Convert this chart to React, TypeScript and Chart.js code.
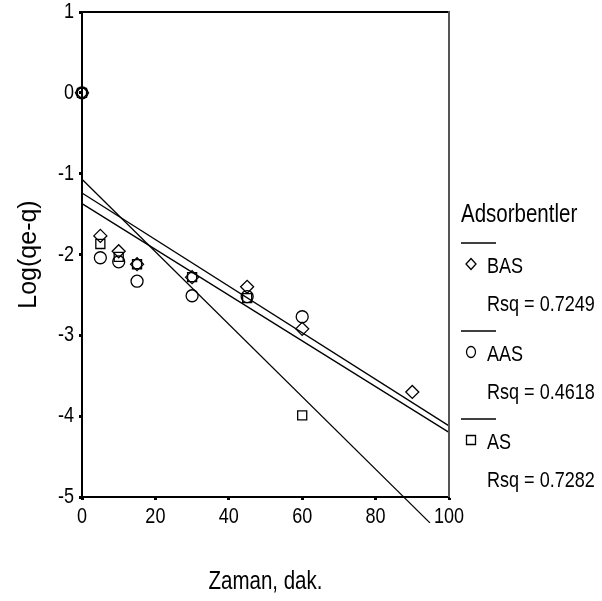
import React, { useEffect, useRef } from "react";
import { Chart, registerables } from "chart.js";

Chart.register(...registerables);

// ---- data ----
const timeBAS = [0, 5, 10, 15, 30, 45, 60, 90];
const logBAS = [0, -1.77, -1.96, -2.12, -2.28, -2.4, -2.92, -3.7];
const timeAAS = [0, 5, 10, 15, 30, 45, 60];
const logAAS = [0, -2.04, -2.09, -2.33, -2.51, -2.52, -2.77];
const timeAS = [0, 5, 10, 15, 30, 45, 60];
const logAS = [0, -1.87, -2.03, -2.12, -2.28, -2.54, -3.99];

// fitted lines (end points)
const fitXBAS = [0, 100];
const fitYBAS = [-1.24, -4.12];
const fitXAAS = [0, 100];
const fitYAAS = [-1.37, -4.2];
const fitXAS = [0, 94.8];
const fitYAS = [-1.07, -5.32];

const seriesNames = ["BAS", "AAS", "AS"];
const rsqLabels = ["Rsq = 0.7249", "Rsq = 0.4618", "Rsq = 0.7282"];
const legendTitle = "Adsorbentler";
const xTitle = "Zaman, dak.";
const yTitle = "Log(qe-q)";
const xMin = 0, xMax = 100, xStep = 20;
const yMin = -5, yMax = 1, yStep = 1;

const FONT = '"Liberation Sans", Arial, sans-serif';
const SQUEEZE = 0.82;

const toPts = (xs: number[], ys: number[]) => xs.map((x, i) => ({ x, y: ys[i] }));

// draws condensed text (the reference uses a narrow sans face)
function narrowText(ctx: any, text: string, x: number, y: number, size: number, align: string) {
  ctx.save();
  ctx.font = `${size}px ${FONT}`;
  ctx.textAlign = align;
  ctx.textBaseline = "middle";
  ctx.translate(x, y);
  ctx.scale(SQUEEZE, 1);
  ctx.fillText(text, 0, 0);
  ctx.restore();
}

const framePlugin = {
  id: "frameAndLegend",
  afterDraw(chart: any) {
    const { ctx, chartArea } = chart;
    const { left, right, top, bottom } = chartArea;
    ctx.save();
    // top & right frame
    ctx.strokeStyle = "#000";
    ctx.lineWidth = 2;
    ctx.beginPath();
    ctx.moveTo(left, top);
    ctx.lineTo(right, top);
    ctx.stroke();
    ctx.strokeStyle = "#555";
    ctx.beginPath();
    ctx.moveTo(right, top - 1);
    ctx.lineTo(right, bottom);
    ctx.stroke();

    ctx.fillStyle = "#000";
    // tick labels from the library's own ticks
    const xs = chart.scales.x;
    xs.ticks.forEach((t: any) => {
      narrowText(ctx, String(t.label), xs.getPixelForValue(t.value), 517, 22, "center");
    });
    const ys = chart.scales.y;
    ys.ticks.forEach((t: any) => {
      narrowText(ctx, String(t.label), 74, ys.getPixelForValue(t.value), 22, "right");
    });

    // axis titles
    narrowText(ctx, xTitle, (left + right) / 2, 582, 25, "center");
    ctx.save();
    ctx.font = `25px ${FONT}`;
    ctx.textAlign = "center";
    ctx.textBaseline = "middle";
    ctx.translate(29, (top + bottom) / 2);
    ctx.rotate(-Math.PI / 2);
    ctx.fillText(yTitle, 0, 0);
    ctx.restore();

    // legend
    narrowText(ctx, legendTitle, 461, 215, 25, "left");
    const shapes = ["diamond", "circle", "square"];
    seriesNames.forEach((name, i) => {
      const sep = 243 + 88 * i;
      ctx.strokeStyle = "#000";
      ctx.lineWidth = 1.3;
      ctx.beginPath();
      ctx.moveTo(461, sep);
      ctx.lineTo(496, sep);
      ctx.stroke();
      const mx = 471, my = sep + 21;
      ctx.beginPath();
      if (shapes[i] === "diamond") {
        ctx.moveTo(mx, my - 5.5);
        ctx.lineTo(mx + 5, my);
        ctx.lineTo(mx, my + 5.5);
        ctx.lineTo(mx - 5, my);
        ctx.closePath();
      } else if (shapes[i] === "circle") {
        ctx.ellipse(mx, my, 4.5, 5.5, 0, 0, Math.PI * 2);
      } else {
        ctx.rect(mx - 4.5, my - 4.5, 9, 9);
      }
      ctx.stroke();
      narrowText(ctx, name, 487, sep + 24, 22, "left");
      narrowText(ctx, rsqLabels[i], 487, sep + 62, 22, "left");
    });
    ctx.restore();
  },
};

export default function App() {
  const ref = useRef<HTMLCanvasElement | null>(null);
  useEffect(() => {
    if (!ref.current) return;
    const markerBase = {
      type: "scatter" as const,
      showLine: false,
      borderColor: "#000",
      backgroundColor: "rgba(0,0,0,0)",
      pointBorderWidth: 1.3,
      clip: false as const,
    };
    const lineBase = {
      type: "line" as const,
      showLine: true,
      borderColor: "#000",
      borderWidth: 1.3,
      pointRadius: 0,
      fill: false,
      tension: 0,
      clip: false as const,
    };
    const chart = new Chart(ref.current, {
      type: "scatter",
      data: {
        datasets: [
          { ...lineBase, label: "fit BAS", data: toPts(fitXBAS, fitYBAS) },
          { ...lineBase, label: "fit AAS", data: toPts(fitXAAS, fitYAAS) },
          { ...lineBase, label: "fit AS", data: toPts(fitXAS, fitYAS) },
          { ...markerBase, label: seriesNames[0], data: toPts(timeBAS, logBAS), pointStyle: "rectRot", pointRadius: 6.5 },
          { ...markerBase, label: seriesNames[1], data: toPts(timeAAS, logAAS), pointStyle: "circle", pointRadius: 6 },
          { ...markerBase, label: seriesNames[2], data: toPts(timeAS, logAS), pointStyle: "rect", pointRadius: 6.4 },
        ] as any,
      },
      options: {
        responsive: false,
        animation: false,
        devicePixelRatio: 1,
        layout: { padding: { left: 0, top: 12, right: 153, bottom: 0 } },
        plugins: { legend: { display: false }, tooltip: { enabled: false }, title: { display: false } },
        scales: {
          x: {
            type: "linear",
            min: xMin,
            max: xMax,
            afterFit: (s: any) => { s.height = 104; },
            border: { display: true, color: "#000", width: 2 },
            grid: { drawOnChartArea: false, drawTicks: true, tickLength: 3, tickWidth: 3, tickColor: "#000" },
            ticks: { stepSize: xStep, display: false },
          },
          y: {
            type: "linear",
            min: yMin,
            max: yMax,
            afterFit: (s: any) => { s.width = 82; },
            border: { display: true, color: "#000", width: 2 },
            grid: { drawOnChartArea: false, drawTicks: true, tickLength: 3, tickWidth: 3, tickColor: "#000" },
            ticks: { stepSize: yStep, display: false },
          },
        },
      },
      plugins: [framePlugin],
    });
    return () => chart.destroy();
  }, []);
  return (
    <div style={{ position: "fixed", left: 0, top: 0, width: 602, height: 601, background: "#fff" }}>
      <canvas ref={ref} width={602} height={601} style={{ display: "block" }} />
    </div>
  );
}
